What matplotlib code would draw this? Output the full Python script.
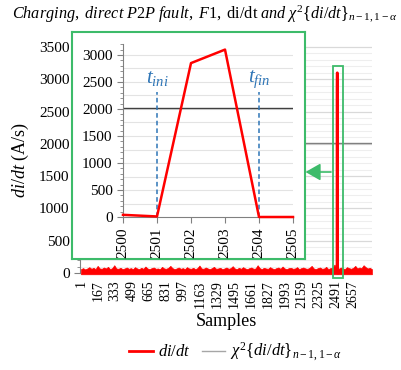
import numpy as np
import matplotlib
matplotlib.use("Agg")
import matplotlib.pyplot as plt
from matplotlib.patches import Rectangle, FancyArrowPatch
from matplotlib.ticker import MultipleLocator

plt.rcParams['font.family'] = ['Liberation Serif', 'DejaVu Serif']
plt.rcParams['mathtext.fontset'] = 'custom'
plt.rcParams['mathtext.rm'] = 'Liberation Serif'
plt.rcParams['mathtext.it'] = 'Liberation Serif:italic'
plt.rcParams['mathtext.bf'] = 'Liberation Serif:bold'

# ---------------- data ----------------
# upper envelope of the background di/dt noise (A/s), evenly over samples 1..2841
noise_top = [60,75,55,70,90,65,80,60,110,70,65,85,70,95,60,75,120,70,65,80,
             60,70,85,65,75,60,90,70,60,80,
             65,100,70,60,75,85,65,70,60,95,
             70,65,80,110,75,60,70,85,65,75,
             60,90,70,65,80,60,75,115,70,65,
             85,70,60,75,95,65,70,80,60,70,
             85,65,75,105,70,60,80,65,90,70,
             60,75,85,65,70,120,75,60,80,70,
             65,90,70,60,75,85,65,100,70,60,
             75,80,65,70,90,60,75,85,70,65,
             80,110,70,60,75,85,65,70,95,60,
             75,80,130,70,65,85,70,60,90,75,
             65,80,110,70,85,75,120,90,70,80,
             60]
noise_floor = -20
fault_samples = [2500, 2501, 2502, 2503, 2504, 2505]
fault_didt = [40, 10, 2850, 3100, 0, 0]
threshold = 2020
t_ini, t_fin = 2501, 2504
main_xticks = [1, 167, 333, 499, 665, 831, 997, 1163, 1329, 1495, 1661,
               1827, 1993, 2159, 2325, 2491, 2657]
n_samples = 2841

RED = '#ff0000'
GREEN = '#3dbb6a'
BLUE = '#2e75b6'

W, H = 402, 370
fig = plt.figure(figsize=(W/100, H/100), dpi=100)

def fx(px):
    return px / W
def fy(py):
    return 1 - py / H

# ---------------- main axes ----------------
ax = fig.add_axes([fx(80), fy(276.2), fx(372) - fx(80), fy(43.1) - fy(276.2)])
ax.set_xlim(-9, 2842)
ax.set_ylim(-50, 3560)
ax.yaxis.set_major_locator(MultipleLocator(500))
ax.yaxis.set_minor_locator(MultipleLocator(100))
ax.grid(axis='y', which='minor', color='#eeeeee', lw=0.8, zorder=0)
ax.grid(axis='y', which='major', color='#d9d9d9', lw=0.9, zorder=0)
ax.set_axisbelow(True)
for s in ['top', 'right', 'bottom']:
    ax.spines[s].set_visible(False)
ax.spines['left'].set_color('#808080')
ax.spines['left'].set_bounds(0, 3560)
ax.set_xticks(main_xticks)
ax.set_xticklabels([str(v) for v in main_xticks], rotation=90, fontsize=10)
ax.tick_params(axis='x', length=0, pad=3)
ax.tick_params(axis='y', which='major', labelsize=11, length=4, color='#808080')
ax.tick_params(axis='y', which='minor', length=2, color='#808080')

env_x = np.linspace(1, n_samples, len(noise_top))
ax.fill_between(env_x, noise_floor, noise_top, color=RED, lw=0.5, zorder=3)
ax.plot(fault_samples, fault_didt, color=RED, lw=2, zorder=4)
ax.axhline(threshold, color='#808080', lw=1, zorder=2)

ax.add_patch(Rectangle((2460, -80), 100, 3285, fill=False, ec=GREEN, lw=1.3,
                       clip_on=False, zorder=5))

ax.set_xlabel('Samples', fontsize=13, labelpad=3)
ax.set_ylabel(r'$di/dt$ (A/s)', fontsize=13, labelpad=6)

# ---------------- inset frame ----------------
frame = fig.add_axes([fx(72), fy(259), fx(305) - fx(72), fy(32) - fy(259)])
frame.set_xticks([]); frame.set_yticks([])
frame.set_facecolor('white')
for s in frame.spines.values():
    s.set_color(GREEN)
    s.set_linewidth(1.5)

# ---------------- inset axes ----------------
ins = fig.add_axes([fx(123), fy(217), fx(293) - fx(123), fy(44.2) - fy(217)])
ins.set_xlim(2500, 2505)
ins.set_ylim(0, 3200)
ins.patch.set_alpha(0)
ins.yaxis.set_major_locator(MultipleLocator(500))
ins.yaxis.set_minor_locator(MultipleLocator(100))
for v in np.arange(250, 3201, 250):
    ins.axhline(v, color='#e3e3e3', lw=0.8, zorder=0)
for s in ['top', 'right']:
    ins.spines[s].set_visible(False)
ins.spines['left'].set_color('#808080')
ins.spines['bottom'].set_color('#808080')
ins.set_xticks(fault_samples)
ins.set_xticklabels([str(v) for v in fault_samples], rotation=90, fontsize=11)
ins.tick_params(axis='y', which='major', labelsize=11, length=4, color='#808080')
ins.tick_params(axis='y', which='minor', length=2, color='#808080')
ins.tick_params(axis='x', length=4, color='#808080')

ins.axhline(threshold, color='#404040', lw=1, zorder=2)
ins.plot(fault_samples, fault_didt, color=RED, lw=1.8, zorder=4, clip_on=False)
for t, lab in [(t_ini, r'$t_{ini}$'), (t_fin, r'$t_{fin}$')]:
    ins.plot([t, t], [0, 2320], ls=(0, (3, 2)), color=BLUE, lw=1.1, zorder=3)
    ins.text(t, 2560, lab, color=BLUE, fontsize=15, ha='center', va='center')

# ---------------- arrow ----------------
fig.add_artist(FancyArrowPatch(
    (331 / W, 1 - 172 / H), (305.5 / W, 1 - 172 / H),
    transform=fig.transFigure, arrowstyle='-|>,head_length=7,head_width=4',
    color=GREEN, lw=1.2, mutation_scale=1.3, shrinkA=0, shrinkB=0))

# ---------------- title ----------------
fig.text(0.51, fy(14),
         r'$\it{Charging,\ direct\ P2P\ fault,\ F1,}\ \mathrm{di/dt}\ \it{and}\ \chi^2\{di/dt\}_{n-1,1-\alpha}$',
         ha='center', va='center', fontsize=11.7)

# ---------------- legend ----------------
h1, = ax.plot([], [], color=RED, lw=2, label=r'$di/dt$')
h2, = ax.plot([], [], color='#a6a6a6', lw=1, label=r'$\chi^2\{di/dt\}_{n-1,1-\alpha}$')
fig.legend(handles=[h1, h2], loc='center', bbox_to_anchor=(fx(236), fy(352)),
           ncol=2, frameon=False, fontsize=12, handlelength=1.4,
           columnspacing=0.7, handletextpad=0.3)

fig.savefig('out.png', dpi=100)
